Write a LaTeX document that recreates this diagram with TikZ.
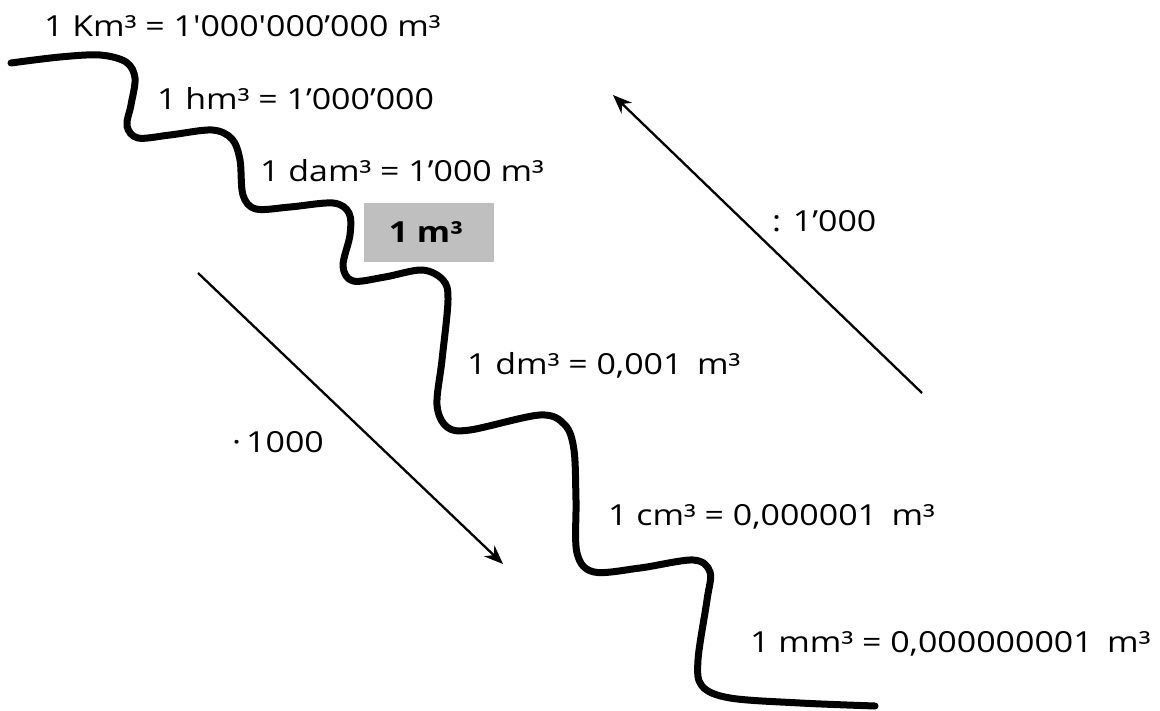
\documentclass[tikz,border=0pt]{standalone}
\usepackage{fontspec}
\setmainfont{Open Sans}[Ligatures=TeXOff,FakeStretch=1.17]
\usetikzlibrary{arrows.meta}

\begin{document}
\begin{tikzpicture}[x=1pt,y=-1pt,>=Stealth,
		unitlabel/.style={anchor=base west,inner sep=0pt,font=\fontsize{29}{34}\selectfont},
		baseunit/.style={fill=black!25,minimum width=130pt,minimum height=59pt,inner sep=0pt,font=\fontsize{29}{34}\selectfont\bfseries},
		convarrow/.style={line width=2.3pt,-{Stealth[length=19pt,width=15pt]}},
		stair/.style={line width=7pt,line cap=round,line join=round}]
		
		\useasboundingbox (0,0) rectangle (1160,711);
		
		% staircase line
		\draw[stair] plot[smooth,tension=0.55] coordinates {
			(11,63) (60,57) (100,55) (126,62) (135,78) (131,105) (127,126) (138,138)
			(170,135) (212,130) (232,139) (240,160) (243,195) (256,209)
			(290,207) (333,203) (349,213) (350,235) (343,266) (353,281)
			(385,277) (422,270) (443,280) (448,300) (442,360) (437,405) (447,427)
			(470,430) (540,415) (565,425) (574,450) (576,500) (577,553) (594,572)
			(640,568) (693,560) (710,572) (707,600) (698,660) (702,686)
			(730,698) (800,703) (875,706)};
		
		% units above the base unit
		\node[unitlabel] (km) at (44,37) {1 Km³ = 1'000'000’000 m³};
		\node[unitlabel] (hm) at (157,110) {1 hm³ = 1’000’000};
		\node[unitlabel] (dam) at (260,182) {1 dam³ = 1’000 m³};
		
		% base unit
		\node[baseunit] (m) at (429,232.5) {1 m³\kern6pt};
		
		% units below the base unit
		\node[unitlabel] (dm) at (467,375) {1 dm³ = 0,001\enspace m³};
		\node[unitlabel] (cm) at (608,525) {1 cm³ = 0,000001\enspace m³};
		\node[unitlabel] (mm) at (750,652) {1 mm³ = 0,000000001\enspace m³};
		
		% conversion arrows
		\coordinate (downtail) at (198,273);
		\coordinate (downtip) at (503,564);
		\coordinate (uptail) at (922,393);
		\coordinate (uptip) at (613,95);
		\draw[convarrow] (downtail) -- (downtip);
		\draw[convarrow] (uptail) -- (uptip);
		\node[unitlabel] (times) at (232,453) {·\kern5pt1000};
		\node[unitlabel] (divide) at (772,232) {: 1’000};
		
	\end{tikzpicture}
\end{document}
